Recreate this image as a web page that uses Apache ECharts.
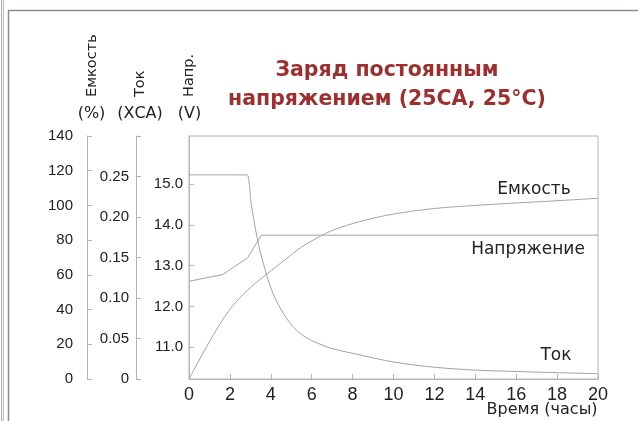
<!DOCTYPE html>
<html>
<head>
<meta charset="utf-8">
<script src="https://cdn.jsdelivr.net/npm/echarts@6/dist/echarts.min.js"></script>
<style>html,body{margin:0;padding:0;background:#fff}#c{width:638px;height:421px}</style>
</head>
<body>
<div id="c"></div>
<script>
// Time axis ticks (hours)
var timeTicks = [0, 2, 4, 6, 8, 10, 12, 14, 16, 18, 20];
// Capacity (%)
var capTime = [0, 0.5, 1.0, 1.43, 1.8, 2.25, 3.06, 3.8, 4.69, 5.51, 6.32, 7.06, 8.36, 10, 12, 14, 16, 18, 20];
var capValue = [0, 11, 21.5, 30, 36.8, 43.7, 53.3, 60.4, 68.7, 76.0, 81.6, 85.8, 90.7, 95.0, 98.2, 100.0, 101.4, 102.7, 104.1];
// Current (xCA)
var curTime = [0, 2.7, 2.85, 3.05, 3.2, 3.4, 3.6, 3.8, 4.1, 4.5, 5.0, 5.5, 6.0, 6.5, 7.0, 8.4, 10, 12, 14, 16, 18, 20];
var curValue = [0.252, 0.252, 0.252, 0.215, 0.192, 0.166, 0.146, 0.128, 0.106, 0.086, 0.067, 0.055, 0.0475, 0.042, 0.0375, 0.0295, 0.021, 0.0145, 0.011, 0.0093, 0.0078, 0.0066];
// Voltage (V)
var voltTime = [0, 1.63, 2.86, 3.54, 20];
var voltValue = [12.62, 12.78, 13.19, 13.75, 13.75];
// Tick labels
var voltTicks = [11, 12, 13, 14, 15];
var curTicks = [0, 0.05, 0.10, 0.15, 0.20, 0.25];
var capTicks = [0, 20, 40, 60, 80, 100, 120, 140];

function pairs(xs, ys) { return xs.map(function (x, i) { return [x, ys[i]]; }); }

var axisColor = '#b4b4b4';
var lineColor = '#a2a2a2';
var numFont = 'Liberation Sans, Arial, sans-serif';
var txtFont = 'DejaVu Sans, sans-serif';

var chart = echarts.init(document.getElementById('c'));
chart.setOption({
  backgroundColor: '#fff',
  animation: false,
  title: {
    text: 'Заряд постоянным\nнапряжением (25CA, 25°C)',
    left: 382, top: 51, textAlign: 'center',
    textStyle: { color: '#9e2f2f', fontFamily: txtFont, fontWeight: 'bold', fontSize: 20.5, lineHeight: 29 }
  },
  grid: { left: 189, right: 40, top: 136, bottom: 42, show: true, borderColor: axisColor, borderWidth: 1, backgroundColor: 'transparent' },
  xAxis: {
    type: 'value', min: 0, max: 20, interval: 2,
    axisLine: { lineStyle: { color: axisColor } },
    axisTick: { inside: true, length: 5, lineStyle: { color: axisColor } },
    axisLabel: { margin: 7, color: '#222', fontFamily: numFont, fontSize: 18,
      customValues: timeTicks },
    splitLine: { show: false }
  },
  yAxis: [
    { // voltage
      type: 'value', min: 10.224, max: 16.18, position: 'left', offset: 0,
      axisLine: { show: true, lineStyle: { color: axisColor } },
      axisTick: { show: true, inside: true, length: 5, lineStyle: { color: axisColor }, customValues: voltTicks },
      axisLabel: { margin: 6, color: '#222', fontFamily: numFont, fontSize: 15, customValues: voltTicks,
        formatter: function (v) { return v.toFixed(1); } },
      splitLine: { show: false }
    },
    { // current
      type: 'value', min: 0, max: 0.3, interval: 0.05, position: 'left', offset: 53,
      axisLine: { show: true, lineStyle: { color: axisColor } },
      axisTick: { show: true, inside: true, length: 5, lineStyle: { color: axisColor } },
      axisLabel: { margin: 7, color: '#222', fontFamily: numFont, fontSize: 15, customValues: curTicks,
        formatter: function (v) { return v === 0 ? '0' : v.toFixed(2); } },
      splitLine: { show: false }
    },
    { // capacity
      type: 'value', min: 0, max: 140, interval: 20, position: 'left', offset: 102,
      axisLine: { show: true, lineStyle: { color: axisColor } },
      axisTick: { show: true, inside: true, length: 5, lineStyle: { color: axisColor } },
      axisLabel: { margin: 14, color: '#222', fontFamily: numFont, fontSize: 15, customValues: capTicks },
      splitLine: { show: false }
    }
  ],
  series: [
    { name: 'Емкость', type: 'line', yAxisIndex: 2, data: pairs(capTime, capValue), smooth: 0.4,
      showSymbol: false, lineStyle: { color: lineColor, width: 1 }, silent: true },
    { name: 'Ток', type: 'line', yAxisIndex: 1, data: pairs(curTime, curValue), smooth: 0.3,
      showSymbol: false, lineStyle: { color: lineColor, width: 1 }, silent: true },
    { name: 'Напряжение', type: 'line', yAxisIndex: 0, data: pairs(voltTime, voltValue), smooth: false,
      showSymbol: false, lineStyle: { color: lineColor, width: 1 }, silent: true }
  ],
  graphic: [
    // frame
    { type: 'line', shape: { x1: 1.5, y1: 0, x2: 1.5, y2: 421 }, style: { stroke: '#a8a8a8', lineWidth: 1 } },
    { type: 'line', shape: { x1: 3.5, y1: 0, x2: 3.5, y2: 421 }, style: { stroke: '#b8b8b8', lineWidth: 1 } },
    { type: 'line', shape: { x1: 8.5, y1: 10.5, x2: 8.5, y2: 421 }, style: { stroke: '#8e8a88', lineWidth: 1.5 } },
    { type: 'line', shape: { x1: 8, y1: 10.5, x2: 638, y2: 10.5 }, style: { stroke: '#8e8a88', lineWidth: 1.5 } },
    // axis titles (rotated)
    { type: 'text', x: 92, y: 97, rotation: Math.PI / 2, style: { text: 'Емкость', fill: '#222', font: '14.5px ' + txtFont, align: 'left', verticalAlign: 'middle' } },
    { type: 'text', x: 140, y: 97, rotation: Math.PI / 2, style: { text: 'Ток', fill: '#222', font: '14.5px ' + txtFont, align: 'left', verticalAlign: 'middle' } },
    { type: 'text', x: 189, y: 97, rotation: Math.PI / 2, style: { text: 'Напр.', fill: '#222', font: '14.5px ' + txtFont, align: 'left', verticalAlign: 'middle' } },
    { type: 'text', x: 91.5, y: 113.5, style: { text: '(%)', fill: '#222', font: '16px ' + txtFont, align: 'center', verticalAlign: 'middle' } },
    { type: 'text', x: 140, y: 113.5, style: { text: '(ХСА)', fill: '#222', font: '16px ' + txtFont, align: 'center', verticalAlign: 'middle' } },
    { type: 'text', x: 189.5, y: 113.5, style: { text: '(V)', fill: '#222', font: '16px ' + txtFont, align: 'center', verticalAlign: 'middle' } },
    // curve labels
    { type: 'text', x: 534, y: 189.5, style: { text: 'Емкость', fill: '#222', font: '17px ' + txtFont, align: 'center', verticalAlign: 'middle' } },
    { type: 'text', x: 528, y: 250, style: { text: 'Напряжение', fill: '#222', font: '17px ' + txtFont, align: 'center', verticalAlign: 'middle' } },
    { type: 'text', x: 556, y: 356, style: { text: 'Ток', fill: '#222', font: '17px ' + txtFont, align: 'center', verticalAlign: 'middle' } },
    { type: 'text', x: 597.5, y: 409.5, style: { text: 'Время (часы)', fill: '#222', font: '16px ' + txtFont, align: 'right', verticalAlign: 'middle' } }
  ]
});
</script>
</body>
</html>
